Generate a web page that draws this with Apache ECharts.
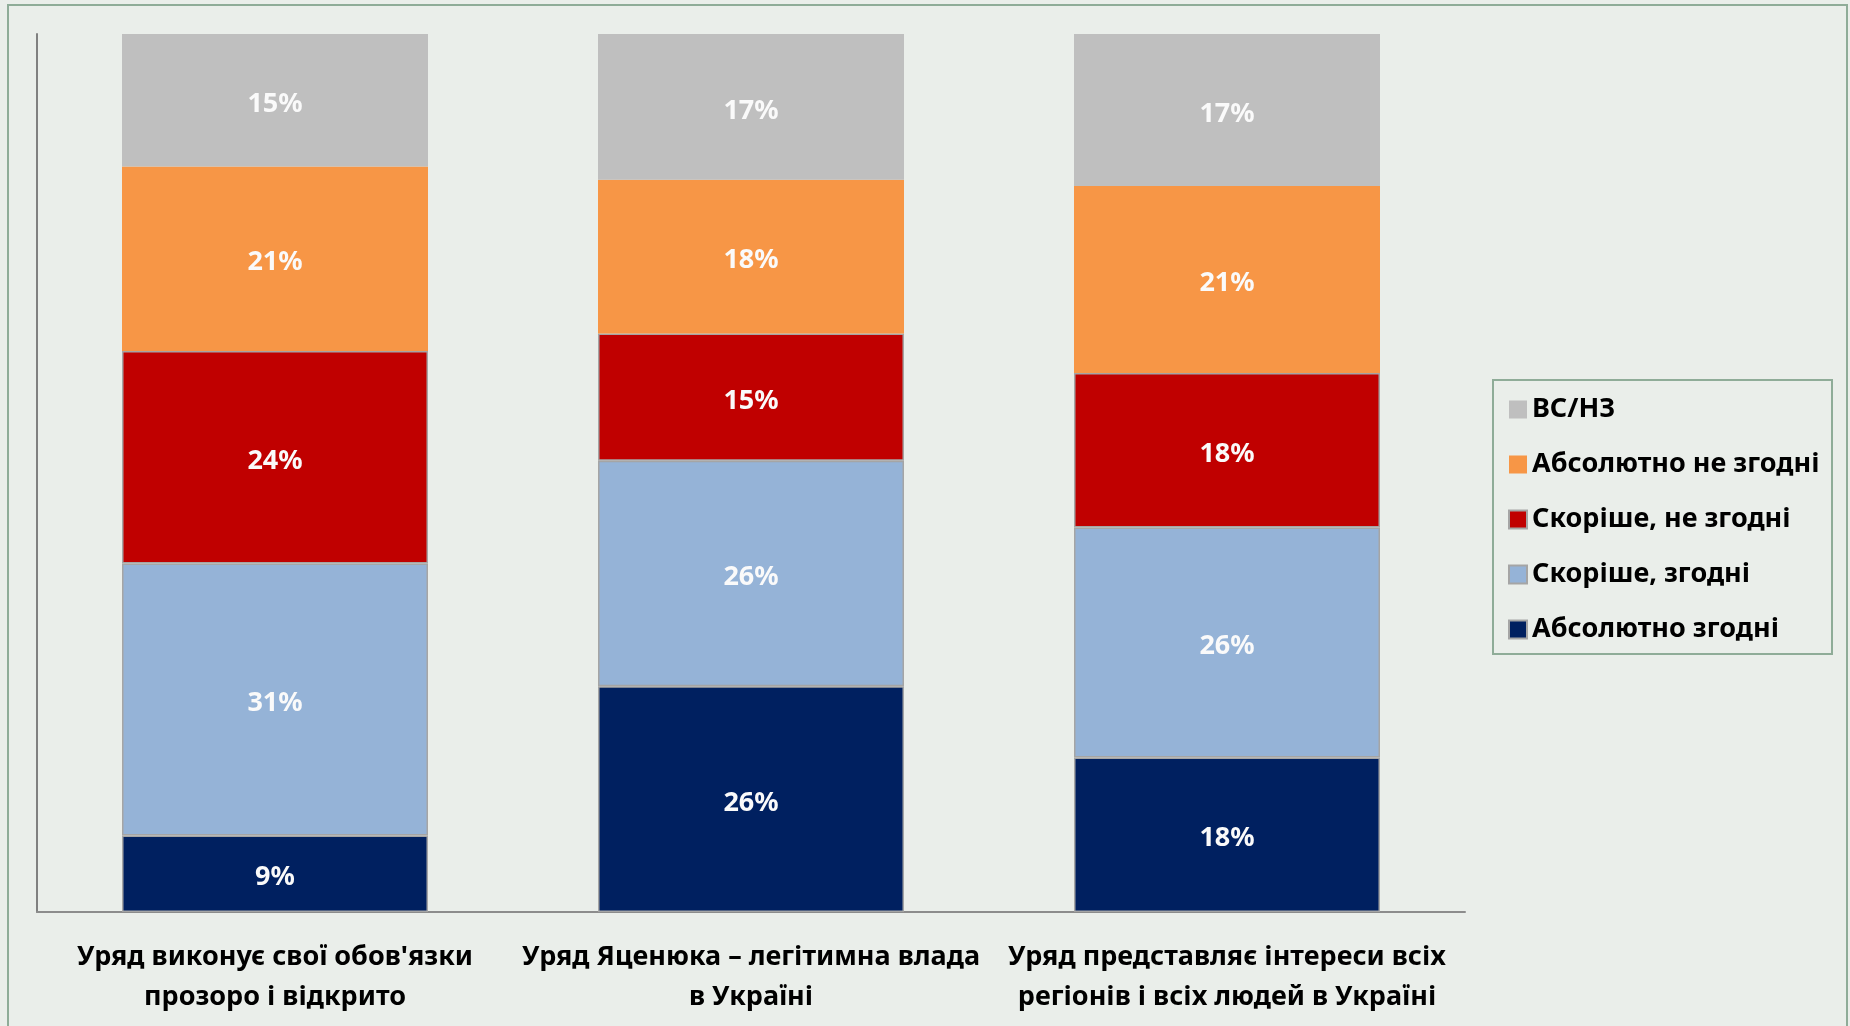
<!DOCTYPE html>
<html>
<head>
<meta charset="utf-8">
<script src="https://cdn.jsdelivr.net/npm/echarts@6/dist/echarts.min.js"></script>
<style>
  html, body { margin: 0; padding: 0; background: #eaeeea; }
  #chart { width: 1850px; height: 1026px; }
</style>
</head>
<body>
<div id="chart"></div>
<script>
// категорії (підписи осі X)
const categories = [
  "Уряд виконує свої обов'язки\nпрозоро і відкрито",
  "Уряд Яценюка – легітимна влада\nв Україні",
  "Уряд представляє інтереси всіх\nрегіонів і всіх людей в Україні",
];

// частки, % (зчитано з висоти сегментів)
const absAgree = [8.7, 25.7, 17.6];
const ratherAgree = [31.0, 25.7, 26.2];
const ratherDisagree = [24.2, 14.5, 17.6];
const absDisagree = [21.0, 17.5, 21.3];
const dontKnow = [15.1, 16.6, 17.3];

const seriesNames = [
  "Абсолютно згодні",
  "Скоріше, згодні",
  "Скоріше, не згодні",
  "Абсолютно не згодні",
  "ВС/НЗ",
];
const seriesData = [absAgree, ratherAgree, ratherDisagree, absDisagree, dontKnow];
const seriesColors = ["#002060", "#95b3d7", "#c00000", "#f79646", "#bfbfbf"];
const withBorder = [true, true, true, false, false];

const fontFamily = "'Noto Sans', 'Open Sans', sans-serif";

const chart = echarts.init(document.getElementById("chart"), null, { renderer: "canvas" });

const option = {
  backgroundColor: "#eaeeea",
  animation: false,
  grid: {
    left: 37,
    top: 34,
    width: 1428,
    bottom: 1026 - 912,
    containLabel: false,
  },
  graphic: [
    {
      // рамка всієї діаграми
      type: "rect",
      shape: { x: 8, y: 5, width: 1839, height: 1040 },
      style: { fill: null, stroke: "#8fac98", lineWidth: 2 },
      silent: true,
    },
    {
      // рамка легенди
      type: "rect",
      shape: { x: 1493, y: 380, width: 339, height: 274 },
      style: { fill: null, stroke: "#8fac98", lineWidth: 2 },
      silent: true,
    },
  ],
  legend: {
    orient: "vertical",
    left: 1500,
    top: 383,
    padding: [13, 8, 8, 8],
    icon: "rect",
    itemWidth: 18,
    itemHeight: 18,
    itemGap: 28,
    data: seriesNames.slice().reverse(),
    textStyle: {
      fontFamily: fontFamily,
      fontWeight: "bold",
      fontSize: 27,
      color: "#000",
      lineHeight: 25,
    },
  },
  xAxis: {
    type: "category",
    data: categories,
    axisLine: { lineStyle: { color: "#8c8c8c", width: 2 } },
    axisTick: { show: false },
    axisLabel: {
      interval: 0,
      margin: 25,
      fontFamily: fontFamily,
      fontWeight: "bold",
      fontSize: 27,
      lineHeight: 40,
      color: "#000",
    },
  },
  yAxis: {
    type: "value",
    min: 0,
    max: 100,
    axisLine: { show: true, lineStyle: { color: "#808080", width: 2 } },
    axisTick: { show: false },
    axisLabel: { show: false },
    splitLine: { show: false },
  },
  series: seriesNames.map((name, i) => ({
    name: name,
    type: "bar",
    stack: "total",
    barWidth: 306,
    data: seriesData[i],
    itemStyle: {
      color: seriesColors[i],
      borderColor: withBorder[i] ? "#a5a5a5" : seriesColors[i],
      borderWidth: withBorder[i] ? 1.5 : 0,
    },
    label: {
      show: true,
      position: "inside",
      offset: [0, 4],
      formatter: (p) => Math.round(p.value) + "%",
      fontFamily: fontFamily,
      fontWeight: "bold",
      fontSize: 27,
      color: "#fafafa",
    },
  })),
};

chart.setOption(option);
</script>
</body>
</html>
